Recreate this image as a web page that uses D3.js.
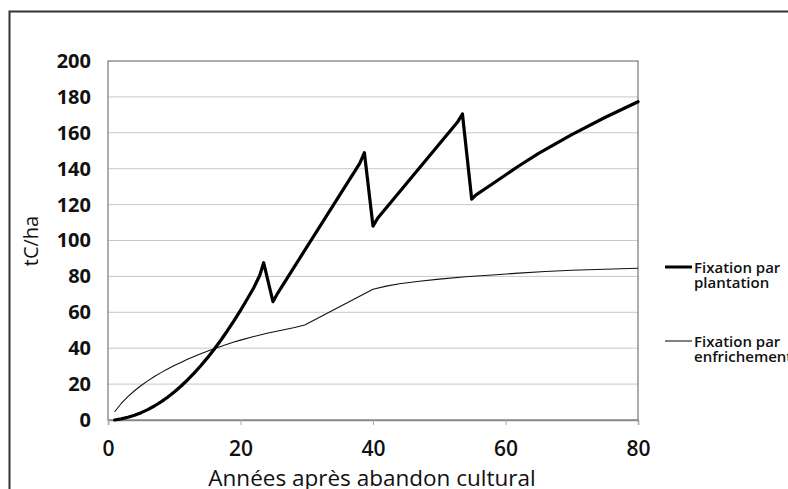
<!DOCTYPE html>
<html lang="fr">
<head>
<meta charset="utf-8">
<script src="https://cdn.jsdelivr.net/npm/d3@7/dist/d3.min.js"></script>
<style>
  body { margin: 0; background: #fff; }
  svg { display: block; font-family: "Open Sans", sans-serif; }
</style>
</head>
<body>
<div id="chart"></div>
<script>
// data
var plantYears = [1, 2, 3, 4, 5, 6, 7, 8, 9, 10, 11, 12, 13, 14, 15, 16, 17, 18, 19, 20, 21, 22, 22.9, 23.5, 24.9, 25.6,
                  38, 38.7, 40, 40.7, 52.8, 53.5, 54.9, 55.5, 58, 60, 62, 65, 70, 75, 80];
var plantValues = [0, 0.6, 1.5, 2.7, 4.1, 5.8, 7.8, 10.1, 12.7, 15.6, 18.8, 22.3, 26.1, 30.2, 34.6, 39.3, 44.3, 49.6, 55.2, 61.1, 67.3, 73.7, 80.5, 87.6, 65.9, 70.6,
                   143, 148.9, 108, 112.4, 166.2, 170.5, 123, 125.3, 131.5, 136.5, 141.5, 148.5, 159, 168.5, 177.3];
var fricheYears = [1, 2, 3, 4, 5, 6, 7, 8, 9, 10, 11, 12, 13, 14, 15, 16, 17, 18, 19, 20, 22, 24, 26, 28, 29.7,
                   40, 42, 44, 47, 50, 54, 58, 62, 66, 70, 75, 80];
var fricheValues = [4.6, 9.2, 13, 16.3, 19.2, 21.8, 24.2, 26.4, 28.4, 30.3, 32.1, 33.8, 35.4, 36.9, 38.3, 39.7, 41, 42.2, 43.4, 44.5, 46.5, 48.3, 49.9, 51.4, 52.9,
                    72.8, 74.6, 75.9, 77.3, 78.5, 79.8, 80.8, 81.8, 82.7, 83.4, 84, 84.5];
var xTicks = [0, 20, 40, 60, 80];
var yTicks = [0, 20, 40, 60, 80, 100, 120, 140, 160, 180, 200];
var legendLabels = [["Fixation par", "plantation"], ["Fixation par", "enfrichement"]];

var width = 788, height = 489;
var mLeft = 108, mRight = 638, mTop = 61, mBottom = 420;

var svg = d3.select("#chart").append("svg")
    .attr("width", width)
    .attr("height", height);

// outer frame
svg.append("rect")
    .attr("x", 9.5).attr("y", 11.5)
    .attr("width", 900).attr("height", 600)
    .attr("fill", "none")
    .attr("stroke", "#333")
    .attr("stroke-width", 2);

var xScale = d3.scaleLinear().domain([0, 80]).range([mLeft, mRight]);
var yScale = d3.scaleLinear().domain([0, 200]).range([mBottom, mTop]);

// grid lines
svg.selectAll(".h").data(yTicks.slice(1, -1)).enter()
    .append("line").classed("h", 1)
    .attr("x1", mLeft).attr("x2", mRight)
    .attr("y1", yScale).attr("y2", yScale)
    .attr("stroke", "#c8c8c8")
    .attr("stroke-width", 1);

// plot box
svg.append("rect")
    .attr("x", mLeft).attr("y", mTop)
    .attr("width", mRight - mLeft).attr("height", mBottom - mTop)
    .attr("fill", "none")
    .attr("stroke", "#777")
    .attr("stroke-width", 1.2);

// x axis
var xAxis = d3.axisBottom(xScale).tickValues(xTicks).tickSize(5).tickPadding(16);
var gx = svg.append("g")
    .attr("transform", "translate(0," + mBottom + ")")
    .call(xAxis);
gx.select(".domain").attr("stroke", "#888").attr("stroke-width", 1.5);
gx.selectAll(".tick line").attr("stroke", "#aaa");
gx.selectAll(".tick text")
    .attr("fill", "#111")
    .style("font-size", "21px")
    .style("font-weight", "600")
    .style("font-family", "'Open Sans', sans-serif");

// y axis
var yAxis = d3.axisLeft(yScale).tickValues(yTicks).tickSize(0).tickPadding(17);
var gy = svg.append("g")
    .attr("transform", "translate(" + mLeft + ",0)")
    .call(yAxis);
gy.select(".domain").remove();
gy.selectAll(".tick text")
    .attr("fill", "#111")
    .style("font-size", "20px")
    .style("font-weight", "700")
    .style("font-family", "'Open Sans', sans-serif");

// axis titles
svg.append("text")
    .attr("transform", "translate(38,241) rotate(-90)")
    .attr("text-anchor", "middle")
    .style("font-size", "20px")
    .style("font-weight", "500")
    .attr("fill", "#111")
    .text("tC/ha");

svg.append("text")
    .attr("x", 372).attr("y", 486)
    .attr("text-anchor", "middle")
    .style("font-size", "22.5px")
    .attr("fill", "#111")
    .text("Années après abandon cultural");

// lines
var line = d3.line()
    .x(function(d) { return xScale(d[0]); })
    .y(function(d) { return yScale(d[1]); });

var fricheData = fricheYears.map(function(d, i) { return [d, fricheValues[i]]; });
var plantData = plantYears.map(function(d, i) { return [d, plantValues[i]]; });

svg.append("path")
    .datum(fricheData)
    .attr("d", line)
    .attr("fill", "none")
    .attr("stroke", "#111")
    .attr("stroke-width", 1.1)
    .attr("stroke-linejoin", "round");

svg.append("path")
    .datum(plantData)
    .attr("d", line)
    .attr("fill", "none")
    .attr("stroke", "#000")
    .attr("stroke-width", 3.2)
    .attr("stroke-linejoin", "round")
    .attr("stroke-linecap", "round");

// legend, one text per line
var legendY = [267, 341];
var legendW = [3, 1];
legendLabels.forEach(function(lab, i) {
    svg.append("line")
        .attr("x1", 665).attr("x2", 692)
        .attr("y1", legendY[i]).attr("y2", legendY[i])
        .attr("stroke", "#000")
        .attr("stroke-width", legendW[i]);
    lab.forEach(function(s, j) {
        svg.append("text")
            .attr("x", 694).attr("y", legendY[i] + 6 + j * 15)
            .style("font-size", "15px")
            .style("font-weight", "600")
            .attr("fill", "#111")
            .text(s);
    });
});
</script>
</body>
</html>
